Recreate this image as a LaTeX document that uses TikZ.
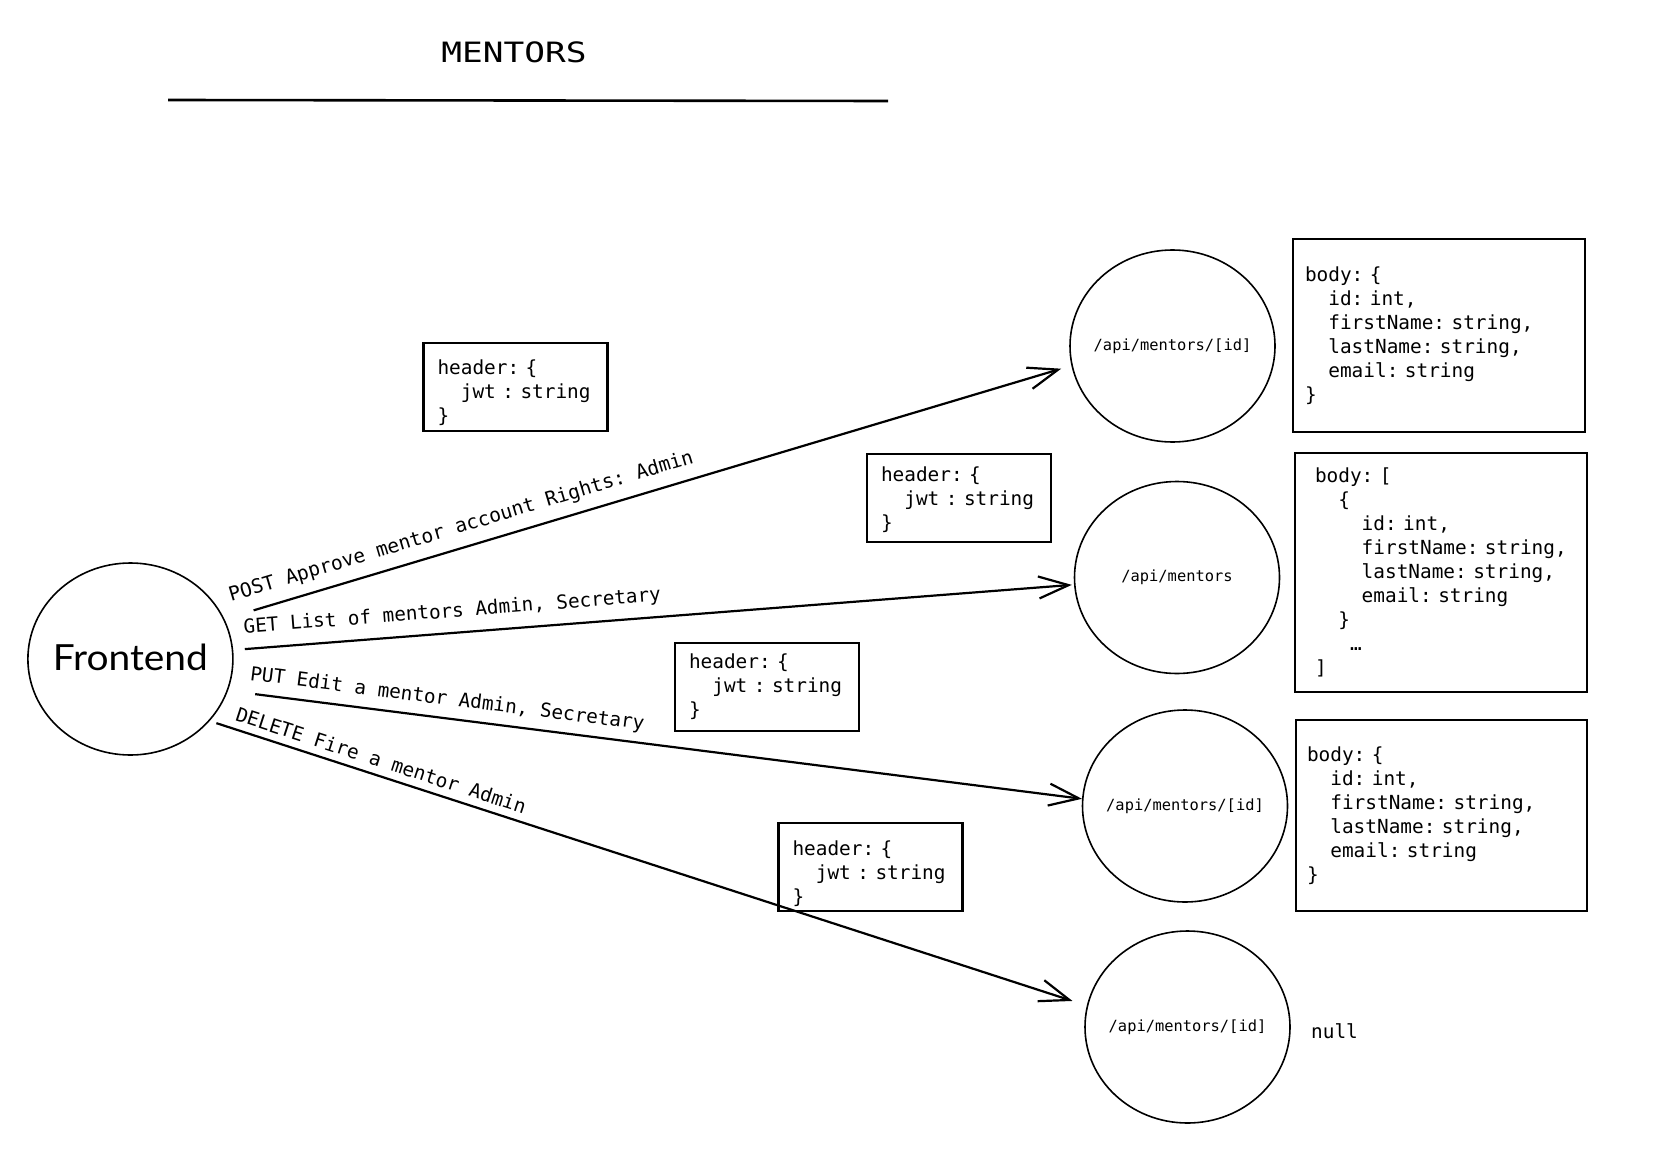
\documentclass[tikz,border=0pt]{standalone}
\usepackage{fontspec}
\setmonofont{DejaVu Sans Mono}
\newfontfamily\titlefont[FakeStretch=1.23]{DejaVu Sans Mono}
\newfontfamily\handfont[FakeStretch=1.08]{Lato}
\usetikzlibrary{arrows.meta,shapes.geometric}
\newcommand\fixsp{\frenchspacing\fontdimen2\font=0.602em\fontdimen3\font=0pt\fontdimen4\font=0pt}
\newcommand\monobox[1]{\ttfamily\fontsize{#1}{12}\selectfont\fixsp}
\tikzset{
  ep/.style={ellipse, draw, line width=0.8pt, minimum width=102.5pt, minimum height=96pt, inner sep=0pt,
    font=\ttfamily\fontsize{7.7}{9}\selectfont\fixsp},
  hdr/.style={draw, line width=1.2pt, minimum width=92pt, minimum height=44pt, inner xsep=7pt, inner ysep=0pt,
    text width=78pt, align=left, font=\monobox{9.7}},
  bodybox/.style={draw, line width=1.2pt, inner ysep=0pt, align=left, font=\monobox{9.7}},
  conn/.style={line width=1.1pt, -{Straight Barb[length=15pt,width=11pt,line width=1.1pt]}},
  lbl/.style={sloped, anchor=south, inner xsep=0pt},
  plain/.style={font=\monobox{9.7}, inner sep=0pt},
}
\begin{document}
\begin{tikzpicture}[x=0.5pt,y=-0.5pt]
\useasboundingbox[fill=white] (0,0) rectangle (1674,1150);

% title
\node[inner sep=0pt] (title) at (514,52.5) {\titlefont\fontsize{14}{16}\selectfont MENTORS};
\coordinate (tl1) at (168,100);
\coordinate (tl2) at (888,101);
\draw[line width=1.3pt] (tl1) -- (tl2);

% frontend
\node[ep, font=\handfont\fontsize{18}{20}\selectfont] (fe) at (130.4,659) {\makebox[0pt]{\raisebox{1.5pt}{Frontend}}};

% endpoints
\node[ep] (c1) at (1172.5,346) {\makebox[0pt]{/api/mentors/[id]}};
\node[ep] (c2) at (1177,577.5) {\makebox[0pt]{/api/mentors}};
\node[ep] (c3) at (1185,806) {\makebox[0pt]{/api/mentors/[id]}};
\node[ep] (c4) at (1187.5,1027) {\makebox[0pt]{/api/mentors/[id]}};

% header boxes
\node[hdr] (h1) at (515.5,387) {\rule{0pt}{12.6pt}header: \{\\\phantom{xx}jwt : string\\\}};
\node[hdr] (h2) at (959,498) {\rule{0pt}{9.4pt}header: \{\\\phantom{xx}jwt : string\\\}};
\node[hdr] (h3) at (767,687) {header: \{\\\phantom{xx}jwt : string\\\}};
\node[hdr] (h4) at (870.5,867) {\rule{0pt}{13.6pt}header: \{\\\phantom{xx}jwt : string\\\}};

% body boxes
\node[bodybox, minimum width=146pt, minimum height=96.5pt, inner xsep=6pt, text width=134pt] (b1) at (1439,335.5)
  {body: \{\\\phantom{xx}id: int,\\\phantom{xx}firstName: string,\\\phantom{xx}lastName: string,\\\phantom{xx}email: string\\\}};
\node[bodybox, minimum width=146pt, minimum height=119.5pt, inner xsep=10pt, text width=126pt] (b2) at (1441,572.5)
  {body: [\\\phantom{xx}\{\\\phantom{xxxx}id: int,\\\phantom{xxxx}firstName: string,\\\phantom{xxxx}lastName: string,\\\phantom{xxxx}email: string\\\phantom{xx}\}\\\phantom{xxx}…\\]};
\node[bodybox, minimum width=145.5pt, minimum height=95.5pt, inner xsep=5.5pt, text width=134.5pt] (b3) at (1441.5,815.5)
  {body: \{\\\phantom{xx}id: int,\\\phantom{xx}firstName: string,\\\phantom{xx}lastName: string,\\\phantom{xx}email: string\\\}};
\node[plain] (nul) at (1334.5,1031) {null};

% connectors
\draw[conn, shorten <=15.2pt, shorten >=5.3pt] (fe.23.7) --
  node[lbl, pos=0.2865, inner ysep=4.8pt, font=\monobox{9.8}] {POST Approve mentor account Rights: Admin} (c1.191.3);
\draw[conn, shorten <=5.8pt, shorten >=1.1pt] (fe.5) --
  node[lbl, pos=0.2625, inner ysep=5.3pt, font=\monobox{9.65}] {GET List of mentors Admin, Secretary} (c2.184.1);
\draw[conn, shorten <=13.7pt] (fe.-18.5) --
  node[lbl, pos=0.254, inner ysep=4.1pt, font=\monobox{9.7}] {PUT Edit a mentor Admin, Secretary} (c3.176.4);
\draw[conn, shorten <=3.5pt, shorten >=7.5pt] (fe.-38.9) --
  node[lbl, pos=0.19, inner ysep=3.5pt, font=\monobox{9.7}] {DELETE Fire a mentor Admin} (c4.168.4);
\end{tikzpicture}
\end{document}
